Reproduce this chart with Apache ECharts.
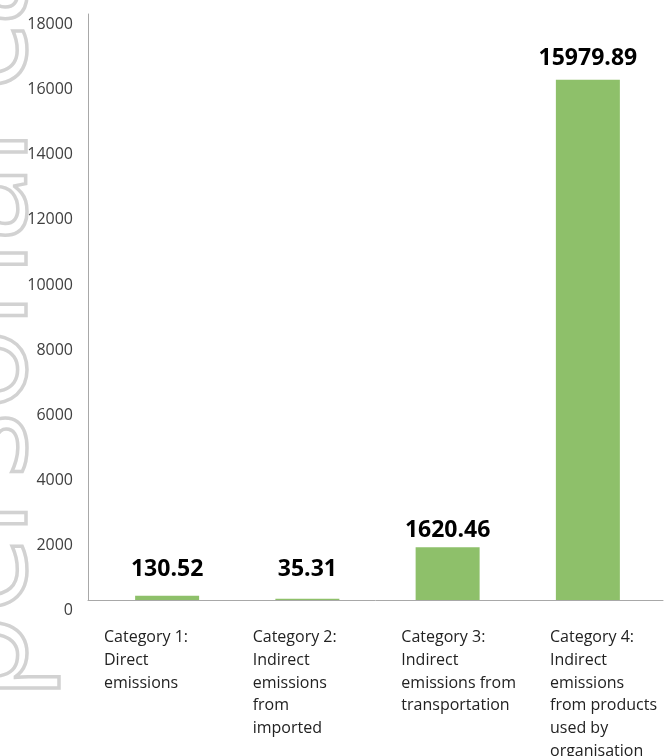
<!DOCTYPE html>
<html>
<head>
<meta charset="utf-8">
<script src="https://cdn.jsdelivr.net/npm/echarts@6/dist/echarts.min.js"></script>
<style>
html,body{margin:0;padding:0;background:#fff;}
#chart{width:667px;height:756px;}
</style>
</head>
<body>
<div id="chart"></div>
<script>
// ---- data ----
const categories = [
  "Category 1:\nDirect\nemissions",
  "Category 2:\nIndirect\nemissions\nfrom\nimported",
  "Category 3:\nIndirect\nemissions from\ntransportation",
  "Category 4:\nIndirect\nemissions\nfrom products\nused by\norganisation"
];
const emissions = [130.52, 35.31, 1620.46, 15979.89];
const yTicks = { min: 0, max: 18000, interval: 2000 };
const watermarkText = "personal carbon";

// ---- chart ----
const chart = echarts.init(document.getElementById('chart'), null, { renderer: 'canvas' });
const labelDist = [15, 18, 5, 10];
const FONT = '"Open Sans", "Noto Sans", sans-serif';

const option = {
  backgroundColor: '#ffffff',
  animation: false,
  graphic: [{
    type: 'text',
    x: -14,
    y: 700,
    rotation: Math.PI / 2,
    silent: true,
    z: -10,
    style: {
      text: watermarkText,
      font: '400 140px ' + FONT,
      fill: 'rgba(0,0,0,0)',
      stroke: '#d2d2d2',
      lineWidth: 3.5,
      align: 'left',
      verticalAlign: 'middle'
    }
  }],
  grid: [
    { left: 97, right: 9, top: 14, bottom: 156, outerBoundsMode: 'none', containLabel: false },
    { left: 29.67, right: 42.66, top: 14, bottom: 156, outerBoundsMode: 'none', containLabel: false },
    { left: 88, right: 4, top: 14, bottom: 156, outerBoundsMode: 'none', containLabel: false }
  ],
  xAxis: [
    {
      gridIndex: 0, type: 'category', data: categories,
      axisLine: { show: false }, axisTick: { show: false }, axisLabel: { show: false }
    },
    {
      gridIndex: 1, type: 'category', data: categories,
      axisLine: { show: false }, axisTick: { show: false },
      axisLabel: {
        show: true, interval: 0, align: 'left', verticalAlign: 'top', margin: 26,
        color: '#222222', fontFamily: FONT, fontSize: 16, lineHeight: 22.8
      }
    },
    {
      gridIndex: 2, type: 'value', min: 0, max: 1,
      axisLine: { show: true, lineStyle: { color: '#a8a8a8', width: 1 } },
      axisTick: { show: false }, axisLabel: { show: false }, splitLine: { show: false }
    }
  ],
  yAxis: [
    {
      gridIndex: 0, type: 'value', min: yTicks.min, max: yTicks.max, interval: yTicks.interval,
      offset: 9,
      axisLine: { show: true, lineStyle: { color: '#a8a8a8', width: 1 } },
      axisTick: { show: false }, splitLine: { show: false },
      axisLabel: {
        margin: 15, color: '#404040', fontFamily: FONT, fontSize: 16,
        verticalAlign: 'top', lineHeight: 21,
        formatter: v => String(v)
      }
    },
    { gridIndex: 1, type: 'value', show: false, min: 0, max: 1, splitLine: { show: false } },
    { gridIndex: 2, type: 'value', show: false, min: 0, max: 1, splitLine: { show: false } }
  ],
  series: [{
    type: 'bar',
    xAxisIndex: 0, yAxisIndex: 0,
    barWidth: 64,
    itemStyle: { color: '#8ec06a' },
    data: emissions.map((v, i) => ({
      value: v,
      label: { distance: labelDist[i] }
    })),
    label: {
      show: true, position: 'top',
      color: '#000000', fontFamily: FONT, fontWeight: 'bold', fontSize: 23,
      formatter: p => p.value.toFixed(2)
    }
  }]
};
chart.setOption(option);
</script>
</body>
</html>
